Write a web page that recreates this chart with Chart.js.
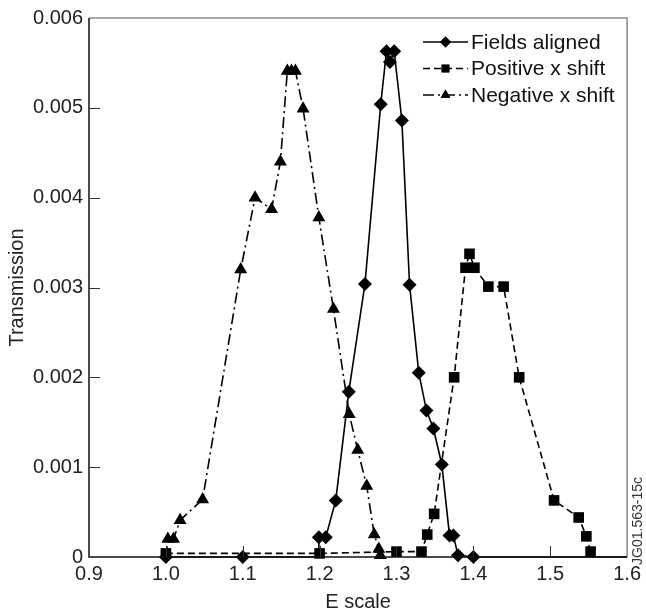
<!DOCTYPE html>
<html>
<head>
<meta charset="utf-8">
<script src="https://cdn.jsdelivr.net/npm/chart.js@4.4.1/dist/chart.umd.min.js"></script>
<style>
  html, body { margin: 0; padding: 0; background: #fff; }
  #wrap { width: 646px; height: 616px; }
</style>
</head>
<body>
<div id="wrap"><canvas id="transChart" width="646" height="616"></canvas></div>
<script>
// values
const seriesNames = ['Fields aligned', 'Positive x shift', 'Negative x shift'];

const alignedE = [1.0, 1.1, 1.198, 1.199, 1.208, 1.221, 1.238, 1.259, 1.2795, 1.287, 1.2915, 1.297, 1.307, 1.317, 1.329, 1.339, 1.348, 1.359, 1.369, 1.374, 1.38, 1.4, 1.6];
const alignedT = [0, 0, 0, 0.00022, 0.00022, 0.00063, 0.00184, 0.00304, 0.00504, 0.00563, 0.00551, 0.00563, 0.00486, 0.00303, 0.00205, 0.00163, 0.00143, 0.00103, 0.00024, 0.00024, 0.00002, 0, 0];

const posE = [1.0, 1.2, 1.3, 1.3325, 1.34, 1.349, 1.375, 1.3898, 1.395, 1.4014, 1.4195, 1.4394, 1.4596, 1.505, 1.537, 1.547, 1.5525];
const posT = [0.00004, 0.00004, 0.00006, 0.00006, 0.00025, 0.00048, 0.002, 0.00322, 0.003375, 0.00322, 0.00301, 0.00301, 0.002, 0.00063, 0.00044, 0.00023, 0.00006];

const negE = [1.0, 1.0026, 1.0099, 1.0185, 1.0478, 1.0974, 1.116, 1.1375, 1.149, 1.158, 1.1634, 1.1686, 1.1785, 1.199, 1.218, 1.2385, 1.2496, 1.2613, 1.271, 1.277, 1.279];
const negT = [0, 0.0002, 0.0002, 0.00041, 0.00064, 0.0032, 0.004, 0.00387, 0.0044, 0.00541, 0.00541, 0.00541, 0.00499, 0.00378, 0.00276, 0.00159, 0.00119, 0.00079, 0.00025, 0.00009, 0.00002];

const xTicks = [0.9, 1.0, 1.1, 1.2, 1.3, 1.4, 1.5, 1.6];
const yTicks = [0, 0.001, 0.002, 0.003, 0.004, 0.005, 0.006];

const FONT = "'Liberation Sans', Arial, Helvetica, sans-serif";

function pts(xs, ys) {
    return xs.map((x, i) => ({ x: x, y: ys[i] }));
}

// marker hidden on the points that only carry the line
function radii(n, size, hide) {
    const r = new Array(n).fill(size);
    hide.forEach(i => r[i] = 0);
    return r;
}

const styles = [
    { pointStyle: 'rectRot', radius: 7, dash: [] },
    { pointStyle: 'rect', radius: 7.5, dash: [7, 4] },
    { pointStyle: 'triangle', radius: 7.5, dash: [11, 4, 2, 4] }
];

// inward ticks, frame, legend and the tag on the right
const extras = {
    id: 'extras',
    afterDatasetsDraw(chart) {
        const { ctx, chartArea: a, scales } = chart;
        ctx.save();
        ctx.setLineDash([]);

        // top + right edges are grey
        ctx.strokeStyle = '#8a8a8a';
        ctx.lineWidth = 1.5;
        ctx.beginPath();
        ctx.moveTo(a.left, a.top);
        ctx.lineTo(a.right, a.top);
        ctx.lineTo(a.right, a.bottom);
        ctx.stroke();

        // left + bottom edges black
        ctx.strokeStyle = '#111';
        ctx.beginPath();
        ctx.moveTo(a.left, a.top);
        ctx.lineTo(a.left, a.bottom);
        ctx.lineTo(a.right, a.bottom);
        ctx.stroke();

        ctx.lineWidth = 1;
        ctx.strokeStyle = '#333';
        ctx.beginPath();
        yTicks.slice(1, -1).forEach(v => {
            const y = Math.round(scales.y.getPixelForValue(v)) + 0.5;
            ctx.moveTo(a.left, y);
            ctx.lineTo(a.left + 11, y);
        });
        xTicks.slice(1, -1).forEach(v => {
            const x = Math.round(scales.x.getPixelForValue(v)) + 0.5;
            ctx.moveTo(x, a.bottom);
            ctx.lineTo(x, a.bottom - 11);
        });
        ctx.stroke();

        // legend
        chart.data.datasets.forEach((ds, i) => {
            const y = 42 + i * 26.5;
            ctx.strokeStyle = '#000';
            ctx.lineWidth = 1.6;
            ctx.setLineDash(ds.borderDash);
            ctx.beginPath();
            ctx.moveTo(423, y);
            ctx.lineTo(468, y);
            ctx.stroke();
            ctx.setLineDash([]);
            ctx.fillStyle = '#000';
            Chart.helpers.drawPoint(ctx, { pointStyle: ds.pointStyle, radius: 5.5, borderWidth: 0 }, 445.5, y);
            ctx.fill();
            ctx.font = '21px ' + FONT;
            ctx.fillStyle = '#111';
            ctx.textAlign = 'left';
            ctx.textBaseline = 'middle';
            ctx.fillText(ds.label, 471, y + 1);
        });

        // figure tag
        ctx.translate(638, 521);
        ctx.rotate(-Math.PI / 2);
        ctx.font = '14px ' + FONT;
        ctx.fillStyle = '#333';
        ctx.textAlign = 'center';
        ctx.textBaseline = 'middle';
        ctx.fillText('JG01.563-15c', 0, 0);
        ctx.restore();
    }
};

const dataSets = [
    [alignedE, alignedT, [2, alignedE.length - 1]],
    [posE, posT, []],
    [negE, negT, [0]]
].map(([xs, ys, hide], i) => ({
    label: seriesNames[i],
    data: pts(xs, ys),
    borderColor: '#000',
    backgroundColor: '#000',
    borderWidth: 1.6,
    borderDash: styles[i].dash,
    pointStyle: styles[i].pointStyle,
    pointRadius: radii(xs.length, styles[i].radius, hide),
    pointBorderWidth: 0,
    pointBackgroundColor: '#000',
    tension: 0,
    clip: false
}));

new Chart(document.getElementById('transChart'), {
    type: 'line',
    data: { datasets: dataSets },
    options: {
        responsive: false,
        animation: false,
        devicePixelRatio: 1,
        layout: { padding: { top: 16, right: 16, left: 0, bottom: 0 } },
        plugins: { legend: { display: false }, tooltip: { enabled: false } },
        scales: {
            x: {
                type: 'linear',
                min: 0.9,
                max: 1.6,
                afterFit: s => { s.height = 59; },
                afterBuildTicks: s => { s.ticks = xTicks.map(v => ({ value: v })); },
                grid: { display: false, drawTicks: false },
                border: { display: false },
                ticks: {
                    padding: 5,
                    color: '#222',
                    font: { family: FONT, size: 20 },
                    maxRotation: 0,
                    callback: v => v.toFixed(1)
                },
                title: {
                    display: true,
                    text: 'E scale',
                    color: '#222',
                    font: { family: FONT, size: 20 },
                    padding: { top: 0, bottom: 2 }
                }
            },
            y: {
                type: 'linear',
                min: 0,
                max: 0.006,
                afterFit: s => { s.width = 89; },
                afterBuildTicks: s => { s.ticks = yTicks.map(v => ({ value: v })); },
                grid: { display: false, drawTicks: false },
                border: { display: false },
                ticks: {
                    padding: 6,
                    color: '#222',
                    font: { family: FONT, size: 20 },
                    callback: v => v === 0 ? '0' : v.toFixed(3)
                },
                title: {
                    display: true,
                    text: 'Transmission',
                    color: '#222',
                    font: { family: FONT, size: 20 },
                    padding: { top: 5, bottom: 0 }
                }
            }
        }
    },
    plugins: [extras]
});
</script>
</body>
</html>
